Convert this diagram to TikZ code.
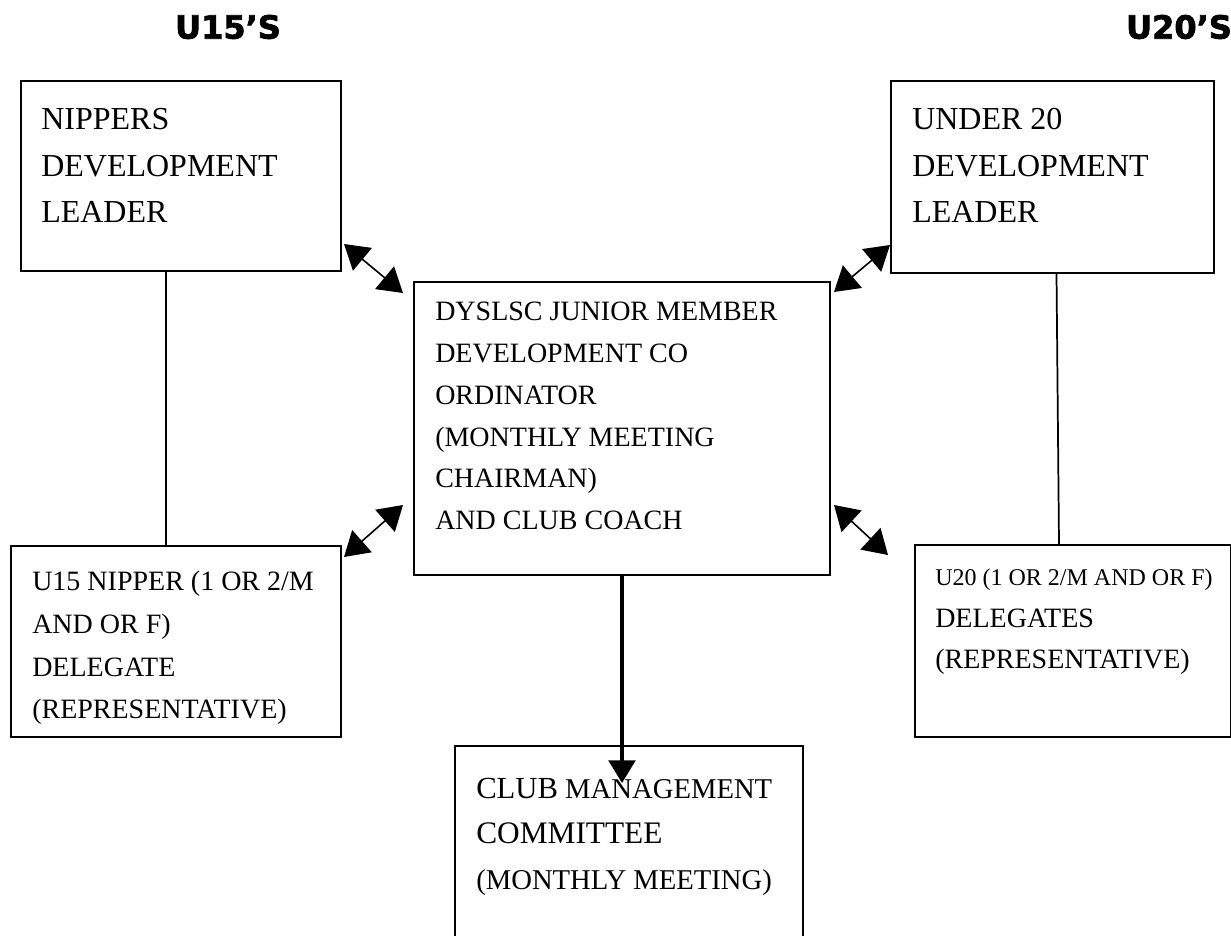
\documentclass[tikz,border=0pt]{standalone}
\usepackage{fontspec}
\setmainfont{Liberation Serif}
\newfontfamily\headfont{DejaVu Sans}[BoldFeatures={FakeBold=2.2}]
\usetikzlibrary{arrows.meta}

\begin{document}
\begin{tikzpicture}[x=0.75pt,y=-0.75pt,
  box/.style={draw,line width=1.5pt,anchor=north west,inner sep=0pt},
  txt/.style={anchor=north west,align=left,inner sep=0pt},
  head/.style={inner sep=0pt,font=\headfont\bfseries\fontsize{24}{29}\selectfont},
  link/.style={line width=1.2pt,{Triangle[length=18pt,width=22pt]}-{Triangle[length=18pt,width=22pt]}},
  feed/.style={line width=2.6pt,-{Triangle[length=17pt,width=20pt]}},
  tie/.style={line width=1.3pt}]
\useasboundingbox (0,0) rectangle (1231,935);

% Headings
\node[head] (h15) at (228,27) {U15’S};
\node[head] (h20) at (1179,27) {U20’S};

% Boxes
\node[box,minimum width=240pt,minimum height=142.5pt] (nip) at (20,80) {};
\node[box,minimum width=242.25pt,minimum height=144pt] (u20lead) at (890,80) {};
\node[box,minimum width=312pt,minimum height=219.75pt] (centre) at (413,281) {};
\node[box,minimum width=247.5pt,minimum height=143.25pt] (u15del) at (10,545) {};
\node[box,minimum width=237pt,minimum height=144pt] (u20del) at (914,544) {};
\node[box,minimum width=261pt,minimum height=150pt] (club) at (454,745) {};

% Text Nodes
\node[txt,font=\fontsize{24}{35}\selectfont] (niptxt) at (41,108)
  {NIPPERS\\DEVELOPMENT\\LEADER};
\node[txt,font=\fontsize{24}{35}\selectfont] (u20leadtxt) at (912,108)
  {UNDER 20\\DEVELOPMENT\\LEADER};
\node[txt,font=\fontsize{21}{31.3}\selectfont] (centretxt) at (435,302)
  {DYSLSC JUNIOR MEMBER\\DEVELOPMENT CO\\ORDINATOR\\(MONTHLY MEETING\\CHAIRMAN)\\AND CLUB COACH};
\node[txt,font=\fontsize{21}{32}\selectfont] (u15deltxt) at (32,571)
  {U15 NIPPER (1 OR 2/M\\AND OR F)\\DELEGATE\\(REPRESENTATIVE)};
\node[txt,font=\fontsize{21}{31}\selectfont] (u20deltxt) at (935,569)
  {{\fontsize{18}{20}\selectfont U20 (1 OR 2/M AND OR F)}\\DELEGATES\\(REPRESENTATIVE)};
\node[txt,font=\fontsize{21.5}{34}\selectfont] (clubtxt) at (476,778)
  {{\fontsize{23}{26}\selectfont CLUB} MANAGEMENT\\{\fontsize{23.5}{26}\selectfont COMMITTEE}\\(MONTHLY MEETING)};

% Straight Lines
\coordinate (nipfoot) at ([shift={(-15,0)}]nip.south);
\draw[tie] (nipfoot) -- (nipfoot |- u15del.north);
\draw[tie] ([shift={(4,0)}]u20lead.south) -- ([shift={(-14,0)}]u20del.north);

% Arrows
\draw[link] ([shift={(2,-28)}]nip.south east) -- ([shift={(-10,12)}]centre.north west);
\draw[link] ([shift={(0,-29)}]u20lead.south west) -- ([shift={(3,11)}]centre.north east);
\draw[link] ([shift={(-10,-71)}]centre.south west) -- ([shift={(2,12)}]u15del.north east);
\draw[link] ([shift={(3,-71)}]centre.south east) -- ([shift={(-26,11)}]u20del.north west);
\coordinate (tip) at (centre.south |- club.north);
\draw[feed] (centre.south) -- ([shift={(0,38)}]tip);

\end{tikzpicture}
\end{document}
